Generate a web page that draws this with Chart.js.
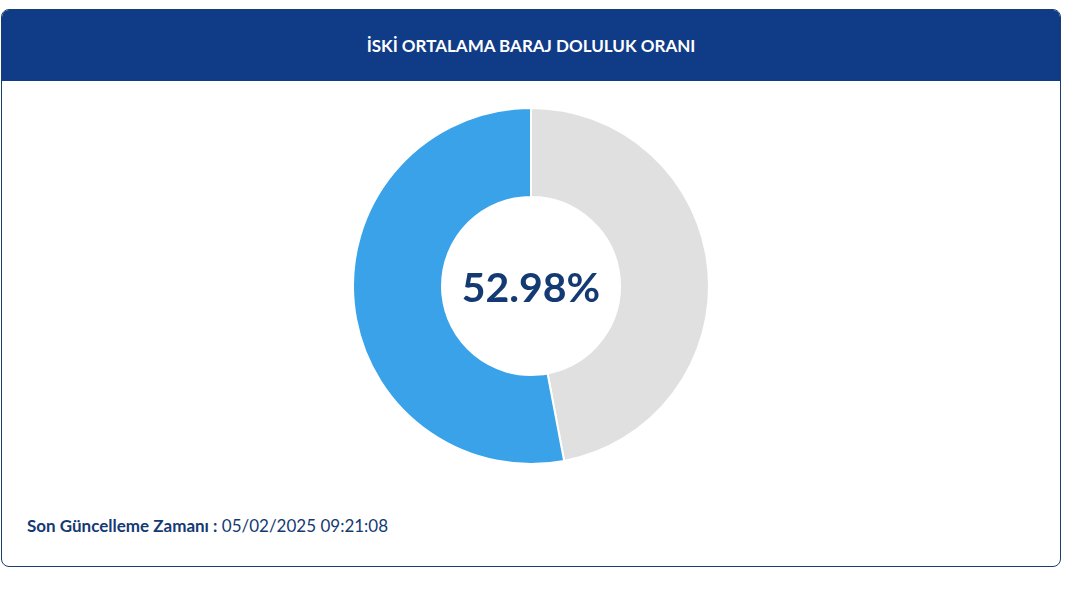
<!DOCTYPE html>
<html>
<head>
<script src="https://cdn.jsdelivr.net/npm/chart.js"></script>
<style>
  body { margin: 0; background: #fff; font-family: Lato, "Noto Sans", sans-serif; }
  .card { position: absolute; left: 1px; top: 9px; width: 1058px; height: 556px; border: 1px solid #1a3d6e; border-radius: 8px; overflow: hidden; }
  .head { height: 71px; background: #103b86; color: #fff; font-weight: bold; font-size: 17px; display: flex; align-items: center; justify-content: center; }
  .wrap { position: absolute; left: 0; top: 97px; width: 1058px; height: 358px; }
  .center { position: absolute; left: 0; top: 97px; width: 1058px; height: 358px; display: flex; align-items: center; justify-content: center; font-weight: bold; font-size: 41px; color: #143a73; pointer-events: none; }
  .foot { position: absolute; left: 25px; top: 505px; font-size: 17px; color: #143a73; }
</style>
</head>
<body>
<div class="card">
  <div class="head">İSKİ ORTALAMA BARAJ DOLULUK ORANI</div>
  <div class="wrap"><canvas id="c"></canvas></div>
  <div class="center" id="pct"></div>
  <div class="foot"><b>Son Güncelleme Zamanı :</b> 05/02/2025 09:21:08</div>
</div>
<script>
  // doluluk oranı
  var labels = ['Boş', 'Dolu'];
  var values = [47.02, 52.98];
  var colors = ['#e0e0e0', '#39a2e9'];

  document.getElementById('pct').textContent = values[1].toFixed(2) + '%';

  new Chart(document.getElementById('c'), {
    type: 'doughnut',
    data: {
      labels: labels,
      datasets: [{ data: values, backgroundColor: colors, borderColor: '#fff', borderWidth: 2 }]
    },
    options: {
      responsive: true,
      maintainAspectRatio: false,
      animation: false,
      cutout: '50%',
      plugins: { legend: { display: false }, tooltip: { enabled: false } }
    }
  });
</script>
</body>
</html>
